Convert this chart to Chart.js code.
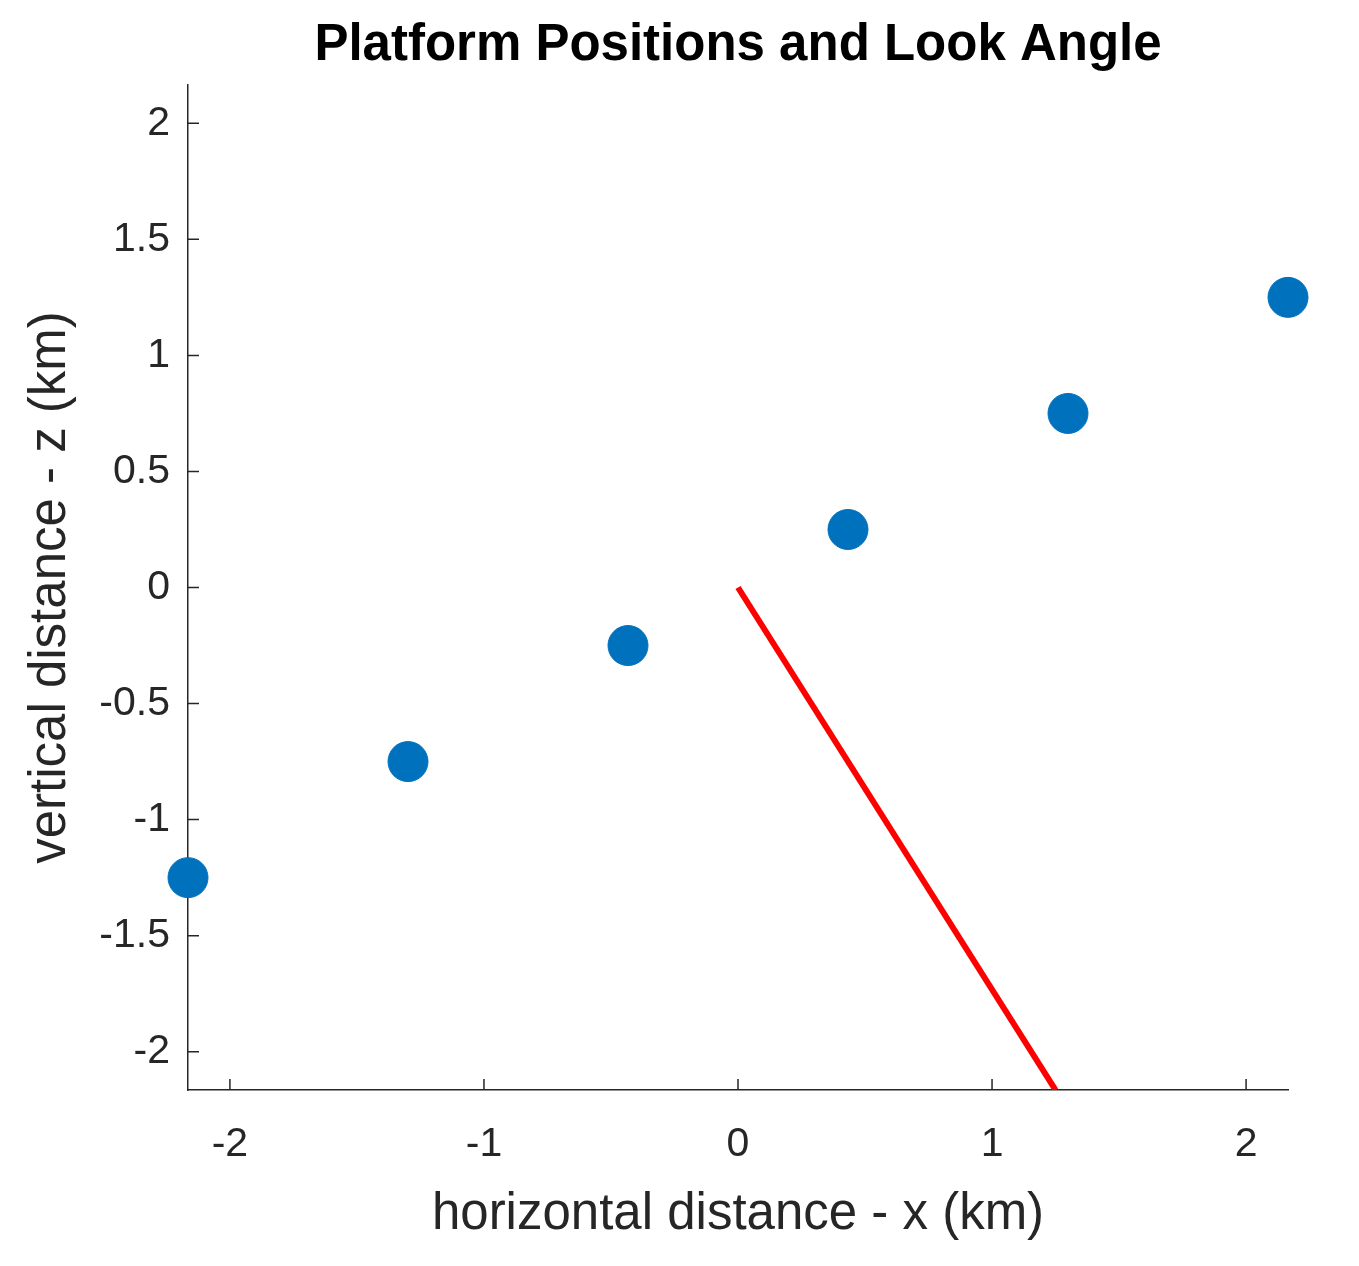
<!DOCTYPE html>
<html>
<head>
<meta charset="utf-8">
<script src="https://cdn.jsdelivr.net/npm/chart.js@4.4.0/dist/chart.umd.min.js"></script>
<style>
  body { margin: 0; background: #fff; }
  #wrap { width: 1359px; height: 1266px; }
</style>
</head>
<body>
<div id="wrap"><canvas id="c"></canvas></div>
<script>
// platform positions (km)
const platformX = [-2.165, -1.299, -0.433, 0.433, 1.299, 2.165];
const platformZ = [-1.25, -0.75, -0.25, 0.25, 0.75, 1.25];
// look angle line
const lookX = [0, 1.25];
const lookZ = [0, -2.165];
const xTicks = [-2, -1, 0, 1, 2];
const yTicks = [-2, -1.5, -1, -0.5, 0, 0.5, 1, 1.5, 2];
const lim = 2.165;

const font = '"Liberation Sans", Arial, sans-serif';
const ink = '#262626';

// MATLAB style inward ticks + title
const decor = {
  id: 'decor',
  afterDraw(chart) {
    const c = chart.ctx, a = chart.chartArea;
    const xs = chart.scales.x, ys = chart.scales.y;
    c.save();
    c.strokeStyle = ink;
    c.lineWidth = 1.5;
    c.beginPath();
    xTicks.forEach(v => {
      const px = xs.getPixelForValue(v);
      c.moveTo(px, a.bottom); c.lineTo(px, a.bottom - 11);
    });
    yTicks.forEach(v => {
      const py = ys.getPixelForValue(v);
      c.moveTo(a.left, py); c.lineTo(a.left + 11, py);
    });
    c.stroke();
    c.fillStyle = '#000';
    c.font = 'bold 51px ' + font;
    c.textAlign = 'center';
    c.textBaseline = 'middle';
    c.fillText('Platform Positions and Look Angle', (a.left + a.right) / 2, 46);
    c.restore();
  }
};

new Chart(document.getElementById('c'), {
  type: 'scatter',
  data: {
    datasets: [
      {
        data: platformX.map((x, i) => ({ x, y: platformZ[i] })),
        backgroundColor: '#0072BD',
        borderColor: '#0072BD',
        pointRadius: 20,
        pointHoverRadius: 20,
        clip: false
      },
      {
        type: 'line',
        data: lookX.map((x, i) => ({ x, y: lookZ[i] })),
        borderColor: '#FF0000',
        borderWidth: 6,
        pointRadius: 0,
        fill: false
      }
    ]
  },
  options: {
    responsive: true,
    maintainAspectRatio: false,
    animation: false,
    layout: { padding: { top: 85, right: 71, left: 0, bottom: 0 } },
    plugins: { legend: { display: false }, tooltip: { enabled: false } },
    scales: {
      x: {
        type: 'linear', min: -lim, max: lim,
        afterBuildTicks: s => { s.ticks = xTicks.map(v => ({ value: v })); },
        afterFit: s => { s.height = 176; },
        grid: { display: false, drawTicks: false },
        border: { display: true, color: ink, width: 1.5 },
        ticks: { color: ink, font: { family: font, size: 41 }, padding: 30,
                 callback: v => String(v) },
        title: { display: true, text: 'horizontal distance - x (km)', color: ink,
                 font: { family: font, size: 51 }, padding: { top: 0, bottom: 20 } }
      },
      y: {
        type: 'linear', min: -lim, max: lim,
        afterBuildTicks: s => { s.ticks = yTicks.map(v => ({ value: v })); },
        afterFit: s => { s.width = 188; },
        grid: { display: false, drawTicks: false },
        border: { display: true, color: ink, width: 1.5 },
        ticks: { color: ink, font: { family: font, size: 41 }, padding: 18,
                 callback: v => String(v) },
        title: { display: true, text: 'vertical distance - z (km)', color: ink,
                 font: { family: font, size: 51 }, padding: { top: 20, bottom: 0 } }
      }
    }
  },
  plugins: [decor]
});
</script>
</body>
</html>
